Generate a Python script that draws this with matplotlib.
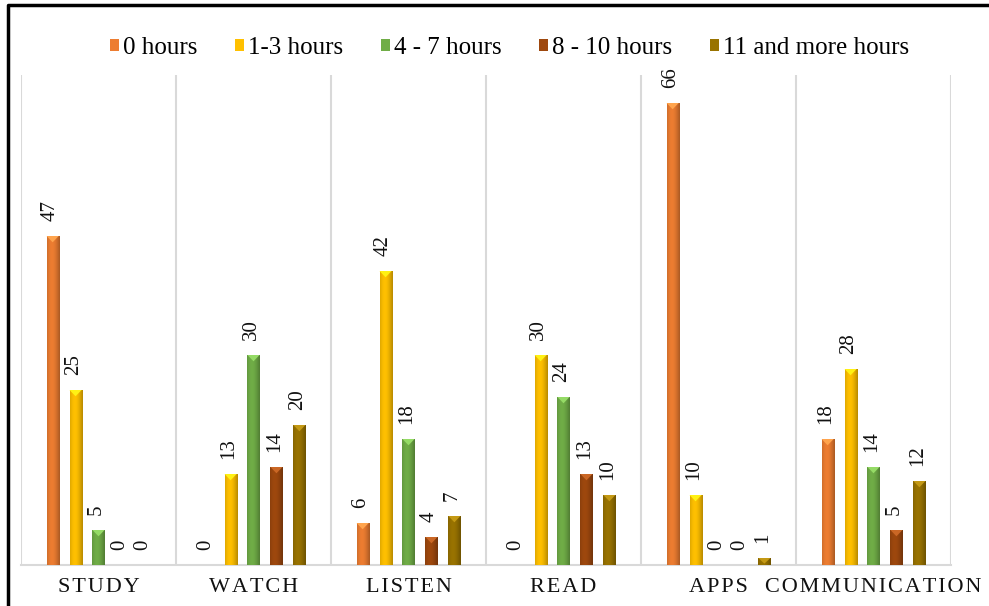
import numpy as np
import matplotlib
matplotlib.use("Agg")
import matplotlib.pyplot as plt
from matplotlib.colors import to_rgb
from matplotlib.patches import Polygon, Patch
from matplotlib.lines import Line2D

# ---- data -------------------------------------------------------------
categories = ["STUDY", "WATCH", "LISTEN", "READ", "APPS", "COMMUNICATION"]
series_names = ["0 hours", "1-3 hours", "4 - 7 hours", "8 - 10 hours", "11 and more hours"]
hours_0 = [47, 0, 6, 0, 66, 18]
hours_1_3 = [25, 13, 42, 30, 10, 28]
hours_4_7 = [5, 30, 18, 24, 0, 14]
hours_8_10 = [0, 14, 4, 13, 0, 5]
hours_11_plus = [0, 20, 7, 10, 1, 12]
series_values = [hours_0, hours_1_3, hours_4_7, hours_8_10, hours_11_plus]
series_colors = ["#ED7D31", "#FFC000", "#70AD47", "#9E480E", "#997300"]

plt.rcParams["font.family"] = ["Liberation Serif", "DejaVu Serif"]

fig = plt.figure(figsize=(9.89, 6.06), dpi=100)
ax = fig.add_axes([21 / 989, 1 - 565 / 606, (951 - 21) / 989, (565 - 75) / 606])

n = len(series_values)
step = 0.148
width = 0.078
x = np.arange(len(categories))


def shaded_image(color):
    """Horizontal cylinder-like shading for a bar of the given colour."""
    base = np.array(to_rgb(color))
    t = np.linspace(0, 1, 64)
    shade = 0.78 + 0.22 * np.cos((t - 0.38) * np.pi * 0.95)
    light = np.clip(base * shade[:, None], 0, 1)
    return light[None, :, :]


for i, (vals, col) in enumerate(zip(series_values, series_colors)):
    offs = x + (i - (n - 1) / 2) * step
    bars = ax.bar(offs, vals, width=width, color=col, zorder=2)
    img = shaded_image(col)
    for b, v in zip(bars, vals):
        bx, bw = b.get_x(), b.get_width()
        if v > 0:
            im = ax.imshow(img, extent=[bx, bx + bw, 0, v], aspect="auto",
                           interpolation="bilinear", zorder=3)
            im.set_clip_path(b)
            # bevelled cap on top of the bar
            cap_h = min(0.9, v * 0.8)
            light = np.clip(np.array(to_rgb(col)) * 1.15 + 0.08, 0, 1)
            ax.add_patch(Polygon([[bx, v], [bx + bw, v], [bx + bw / 2, v - cap_h]],
                                 closed=True, facecolor=light, edgecolor="none",
                                 zorder=4))
        ax.annotate(str(v), xy=(bx + bw / 2, v), xytext=(-1.5, 10.5),
                    textcoords="offset points", rotation=90,
                    ha="center", va="bottom", fontsize=15, color="#111111")

ax.set_xlim(-0.5, len(categories) - 0.5)
ax.set_ylim(0, 70)
ax.set_aspect("auto")

# vertical separators between categories
for gx in np.arange(-0.5, len(categories), 1.0):
    ax.axvline(gx, color="#D9D9D9", lw=1.5, zorder=1)

for side in ["top", "right", "left"]:
    ax.spines[side].set_visible(False)
ax.spines["bottom"].set_color("#D9D9D9")
ax.spines["bottom"].set_linewidth(1.5)
ax.set_yticks([])

spaced = ["\u200a".join(c) for c in categories]
ax.set_xticks(x)
ax.set_xticklabels(spaced, fontsize=16, color="#111111")
ax.tick_params(axis="x", length=0, pad=9)

handles = [Patch(facecolor=c, edgecolor="none") for c in series_colors]
fig.legend(handles, series_names, loc="center", bbox_to_anchor=(0.515, 1 - 48 / 606),
           ncol=5, frameon=False, fontsize=18, handlelength=0.38, handleheight=0.38,
           handletextpad=0.15, columnspacing=1.5)

# frame lines on the left and top edges
fig.add_artist(Line2D([8 / 989, 8 / 989, 1.0], [0.0, 1 - 5 / 606, 1 - 5 / 606],
                      transform=fig.transFigure, color="black", lw=2.5))

fig.savefig("out.png", dpi=100)
